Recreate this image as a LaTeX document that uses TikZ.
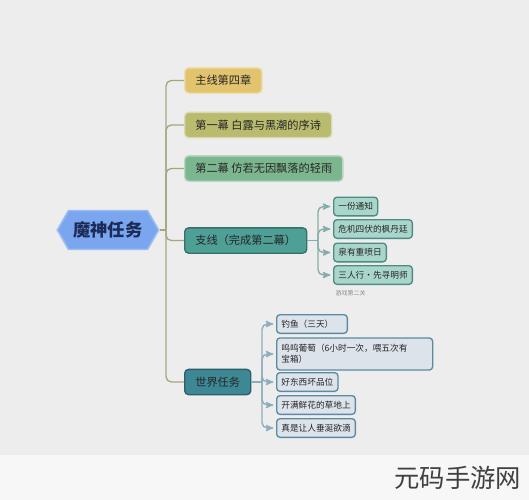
\documentclass[tikz,border=0pt]{standalone}
\usepackage{fontspec}
\setmainfont{Noto Sans CJK SC}
\usetikzlibrary{positioning,arrows,shapes.symbols}

\definecolor{paper}{HTML}{EDEDED}
\definecolor{footband}{HTML}{F7F7F7}
\definecolor{rootblue}{HTML}{79A6EE}
\definecolor{navy}{HTML}{1B2A57}
\definecolor{ochre}{HTML}{E2C36E}
\definecolor{olive}{HTML}{B9BC6F}
\definecolor{sage}{HTML}{7CB68E}
\definecolor{teal}{HTML}{4E9F96}
\definecolor{deepteal}{HTML}{3E8896}
\definecolor{mint}{HTML}{A9D6CB}
\definecolor{mintline}{HTML}{4F8A84}
\definecolor{mist}{HTML}{DCE3EA}
\definecolor{mistline}{HTML}{5C8AA0}
\definecolor{trunkcol}{HTML}{A7A683}

\begin{document}
\begin{tikzpicture}[x=0.75pt,y=-0.75pt
% Topic and branch styles
		, root/.style={signal, signal to=east and west
							    , signal pointer angle=120
							    , fill=rootblue
							    , draw=rootblue!75!white, line width=1.2pt
							    , minimum width=76pt
							    , minimum height=29pt
							    , inner xsep=1pt
							    , font=\fontsize{13}{15}\selectfont\bfseries
							    , text=navy}
		, branch/.style={rectangle
							    , rounded corners=3pt
							    , fill=#1
							    , draw=#1!55!white, line width=1pt
							    , minimum height=19pt
							    , inner xsep=8pt
							    , font=\fontsize{8.4}{10}\selectfont
							    , text=black!85
							    , anchor=west}
		, leaf/.style={rectangle
							    , rounded corners=2.5pt
							    , line width=1pt
							    , minimum height=14pt
							    , inner xsep=3.5pt
							    , font=\fontsize{6.5}{8}\selectfont
							    , text=black!85
							    , anchor=west}
		, sideleaf/.style={leaf, fill=mint, draw=mintline}
		, worldleaf/.style={leaf, fill=mist, draw=mistline}
		, note/.style={font=\fontsize{4.5}{5}\selectfont, text=black!45, anchor=west}
% Connector styles
		, trunk/.style={draw=trunkcol, line width=1pt, rounded corners=4pt}
		, bracket/.style={draw=#1, line width=1pt, rounded corners=4pt, ->, >=stealth'}
	]
%% Background
		\fill[paper] (0,0) rectangle (529,455);
		\fill[footband] (0,455) rectangle (529,500);
		\useasboundingbox (0,0) rectangle (529,500);

%% Topic and main branches
		\node [root] (magic) at (108,230) {魔神任务};

		\node [branch=ochre] (chapter) at (184,80.5) {主线第四章};
		\node [branch=olive] (act1) at (184,125) {第一幕\ 白露与黑潮的序诗};
		\node [branch=sage] (act2) at (184,168.5) {第二幕\ 仿若无因飘落的轻雨};
		\node [branch=teal, draw=teal!70!black] (side) at (184,240.5) {支线（完成第二幕）};
		\node [branch=deepteal, draw=deepteal!70!black] (world) at (184,382) {世界任务};

		\coordinate (fork) at (166,230);
		\draw[trunk] (magic.east) -- (fork);
		\foreach \b in {chapter,act1,act2,side,world}
			\draw[trunk] (fork) |- (\b.west);

%% Side quests
		\node [sideleaf] (notice) at (333,206.5) {一份通知};
		\node [sideleaf] (crisis) at (333,229) {危机四伏的枫丹廷};
		\node [sideleaf] (spring) at (333,252.5) {泉有重喷日};
		\node [sideleaf] (trio) at (333,275) {三人行·先寻明师};
		\node [note] (hint) at (331,293) {游戏第二关};

		\coordinate (sidefork) at (318,240.5);
		\draw[draw=mintline!70!white, line width=1pt] (side.east) -- (sidefork);
		\foreach \l in {notice,crisis,spring,trio}
			\draw[bracket=mintline!70!white] (sidefork) |- ([xshift=-2pt]\l.west);

%% World quests
		\node [worldleaf, text width=46pt, align=left] (fishing) at (276,324) {钓鱼（三天）};
		\node [worldleaf, minimum height=24pt, text width=110pt, align=left] (grape) at (276,354)
			{呜呜葡萄（6小时一次，喂五次有\\宝箱）};
		\node [worldleaf] (taste) at (276,382) {好东西坏品位};
		\node [worldleaf] (meadow) at (276,405) {开满鲜花的草地上};
		\node [worldleaf] (drool) at (276,428) {真是让人垂涎欲滴};

		\coordinate (worldfork) at (262,382);
		\draw[draw=mistline!70!white, line width=1pt] (world.east) -- (worldfork);
		\foreach \l in {fishing,grape,taste,meadow,drool}
			\draw[bracket=mistline!70!white] (worldfork) |- ([xshift=-2pt]\l.west);

%% Footer mark
		\node [anchor=east, font=\fontsize{19}{21}\selectfont, text=black!75] (mark) at (526,478) {元码手游网};
\end{tikzpicture}
\end{document}
